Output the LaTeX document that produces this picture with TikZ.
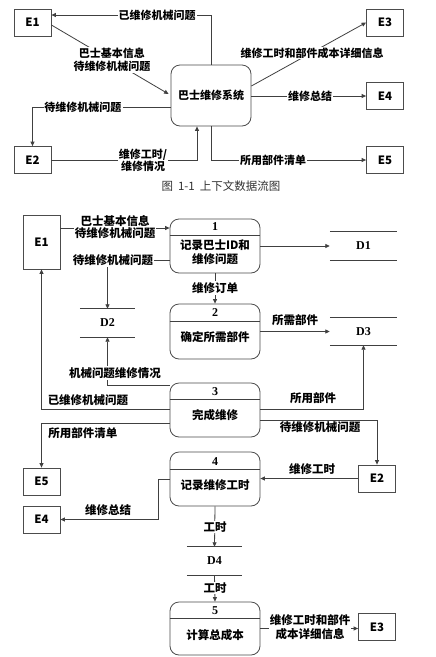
\documentclass[tikz,border=0pt]{standalone}
\usepackage{fontspec}
\setmainfont{Noto Sans CJK SC}
\newfontfamily\numfont{Liberation Serif}
\usetikzlibrary{arrows.meta}
\begin{document}
\begin{tikzpicture}[x=1pt,y=-1pt,
  ln/.style={draw=black!75, line width=0.8pt},
  arr/.style={ln, -{Triangle[length=4.5pt,width=4pt]}},
  ent/.style={draw=black!70, line width=0.8pt, minimum width=37pt, minimum height=27pt, inner sep=0pt, font=\fontsize{11.5}{12}\selectfont\bfseries},
  sysbox/.style={draw=black!70, line width=0.8pt, rounded corners=9pt, minimum width=80pt, minimum height=61pt, inner sep=0pt, font=\fontsize{11}{13}\selectfont\bfseries},
  procbox/.style={draw=black!70, line width=0.8pt, rounded corners=9pt, minimum width=90pt, minimum height=54pt, inner sep=0pt},
  ptext/.style={font=\fontsize{11.5}{14}\selectfont\bfseries, inner sep=0pt, align=center},
  lbl/.style={font=\fontsize{11}{13}\selectfont\bfseries, inner sep=1pt, align=center},
  lblb/.style={font=\fontsize{11.5}{13.5}\selectfont\bfseries, inner sep=1pt, align=center},
  wl/.style={lbl, fill=white},
  wlb/.style={lblb, fill=white},
  num/.style={font=\numfont\fontsize{12}{12}\selectfont\bfseries, inner sep=0pt},
  store/.style={minimum width=67pt, minimum height=28pt, inner sep=0pt, font=\numfont\fontsize{12}{12}\selectfont\bfseries},
  tall/.style={minimum height=54pt}
]
\useasboundingbox[fill=white] (0,0) rectangle (436,657);

% ---------------- top: context diagram ----------------
\node[ent] (E1t) at (32.5,22.5) {E1};
\node[ent] (E3t) at (385,22.5) {E3};
\node[ent] (E4t) at (385,96) {E4};
\node[ent] (E5t) at (385,160) {E5};
\node[ent] (E2t) at (32.5,160) {E2};
\node[sysbox] (sys) at (211,95.5) {巴士维修系统};

\draw[arr] (sys.north) |- ([yshift=7.5pt]E1t.east);
\draw[arr] ([yshift=-2.5pt]E1t.east) -- ([xshift=-2pt,yshift=1.5pt]sys.west);
\draw[arr] ([yshift=-11.5pt]sys.west) -| (E2t.north);
\draw[arr] (E2t.east) -| ([xshift=-14pt]sys.south);
\draw[arr] ([yshift=9.5pt]sys.east) -- (E3t.west);
\draw[arr] (sys.east |- E4t.west) -- (E4t.west);
\draw[arr] (sys.south) |- (E5t.west);

\node[wl] (t1) at (157,15) {已维修机械问题};
\node[wl] (t2) at (112,60) {巴士基本信息\\待维修机械问题};
\node[wl] (t3) at (83,107) {待维修机械问题};
\node[wl, font=\fontsize{11}{12}\selectfont\bfseries] (t4) at (143,160) {维修工时/\\维修情况};
\node[wl] (t5) at (312,53) {维修工时和部件成本详细信息};
\node[wl] (t6) at (310,96) {维修总结};
\node[wl] (t7) at (273,160) {所用部件清单};
\node[font=\fontsize{11.5}{12}\selectfont, text=black!80, inner sep=0pt] (cap) at (221,186) {图\hspace{5pt}1-1\hspace{5pt}上下文数据流图};

% ---------------- bottom: level-1 diagram ----------------
\node[ent, tall] (E1b) at (41.5,242) {E1};
\node[ent] (E5b) at (41.5,481.5) {E5};
\node[ent] (E4b) at (41.5,519.5) {E4};
\node[ent] (E2b) at (377,478.5) {E2};
\node[ent] (E3b) at (377,627) {E3};

% processes
\node[procbox] (P1) at (215,246) {};
\draw[ln] (P1.west |- 0,235) -- (P1.east |- 0,235);
\node[num] (P1n) at (215,227) {1};
\node[ptext] (P1t) at (215,252) {记录巴士ID和\\维修问题};

\node[procbox, minimum height=55pt] (P2) at (215,331.5) {};
\draw[ln] (P2.west |- 0,321) -- (P2.east |- 0,321);
\node[num] (P2n) at (215,313) {2};
\node[ptext] (P2t) at (215,337) {确定所需部件};

\node[procbox] (P3) at (215,410) {};
\draw[ln] (P3.west |- 0,399) -- (P3.east |- 0,399);
\node[num] (P3n) at (215,392) {3};
\node[ptext] (P3t) at (215,415) {完成维修};

\node[procbox] (P4) at (215,479) {};
\draw[ln] (P4.west |- 0,469) -- (P4.east |- 0,469);
\node[num] (P4n) at (215,462) {4};
\node[ptext] (P4t) at (215,485) {记录维修工时};

\node[procbox, minimum height=53pt] (P5) at (215,628.5) {};
\draw[ln] (P5.west |- 0,618) -- (P5.east |- 0,618);
\node[num] (P5n) at (215,611) {5};
\node[ptext] (P5t) at (215,635) {计算总成本};

% data stores
\node[store] (D1) at (363.5,246) {D1};
\draw[ln] (D1.north west) -- (D1.north east) (D1.south west) -- (D1.south east);
\node[store, minimum height=27pt] (D3) at (363.5,331.5) {D3};
\draw[ln] (D3.north west) -- (D3.north east) (D3.south west) -- (D3.south east);
\node[store, minimum width=55pt] (D2) at (107.5,323) {D2};
\draw[ln] (D2.north west) -- (D2.north east) (D2.south west) -- (D2.south east);
\node[store, minimum width=55pt] (D4) at (214.5,561) {D4};
\draw[ln] (D4.north west) -- (D4.north east) (D4.south west) -- (D4.south east);

% flows
\draw[arr] (E1b.east |- 0,228) -- (P1.west |- 0,228);
\draw[arr] (P1.west |- 0,260) -| (D2.north);
\draw[arr] (P1.east) -- (D1.west);
\draw[arr] (P1.south) -- (P2.north);
\draw[arr] (P2.east) -- (D3.west);
\draw[arr] (P3.west |- 0,385) -| (D2.south);
\draw[arr] (P3.west |- 0,409) -| (E1b.south);
\draw[arr] (P3.east |- 0,409) -| (D3.south);
\draw[arr] (P3.east |- 0,420) -| (E2b.north);
\draw[arr] (P3.west |- 0,423) -| (E5b.north);
\draw[arr] (E2b.west) -- (P4.east |- E2b.west);
\draw[arr] (P4.west) -- ++(-11,0) |- (E4b.east);
\draw[arr] (P4.south) -- (D4.north);
\draw[arr] (D4.south) -- (P5.north);
\draw[arr] (P5.east) -- (E3b.west |- P5.east);

% flow labels
\node[wlb, font=\fontsize{11.5}{12}\selectfont\bfseries] (b1) at (115,227) {巴士基本信息\\待维修机械问题};
\node[wlb] (b2) at (113,260) {待维修机械问题};
\node[wlb] (b3) at (215,288) {维修订单};
\node[lblb] (b4) at (295,320) {所需部件};
\node[wlb] (b5) at (115,373) {机械问题维修情况};
\node[lblb] (b6) at (88,400) {已维修机械问题};
\node[lblb] (b7) at (313,398) {所用部件};
\node[lblb] (b8) at (320,427) {待维修机械问题};
\node[lblb] (b9) at (83,433) {所用部件清单};
\node[lblb] (b10) at (312,469) {维修工时};
\node[lblb] (b11) at (108,510) {维修总结};
\node[wlb] (b12) at (215,527) {工时};
\node[wlb] (b13) at (215,588) {工时};
\node[wlb, font=\fontsize{11.5}{14}\selectfont\bfseries] (b14) at (310,627) {维修工时和部件\\成本详细信息};
\end{tikzpicture}
\end{document}
